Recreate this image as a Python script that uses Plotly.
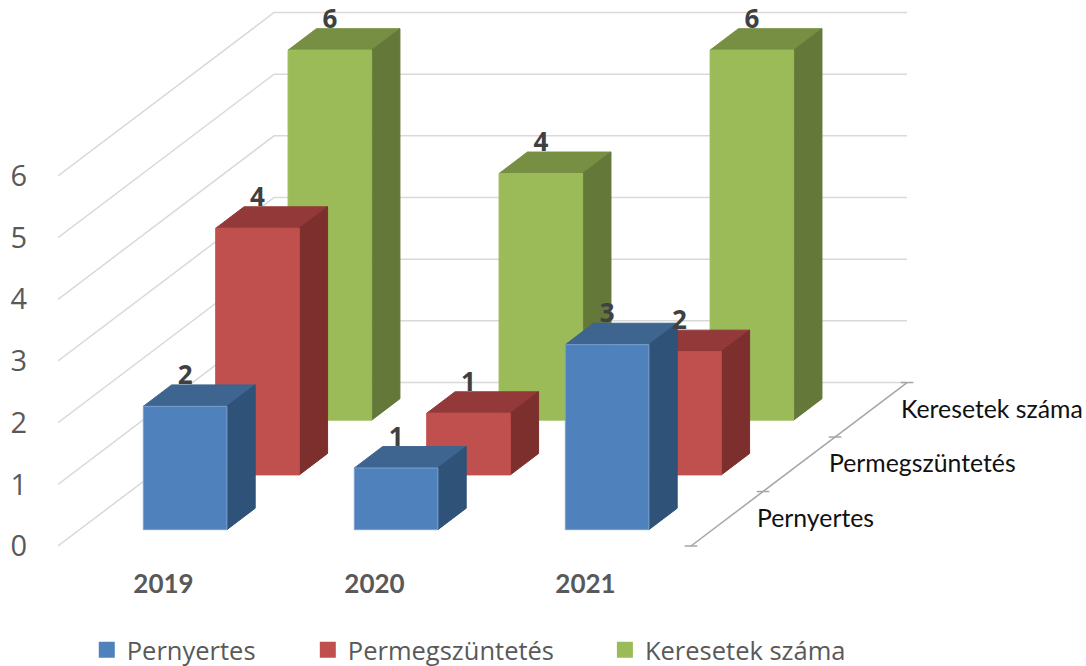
'''
    Excel style 3D column chart, drawn as an oblique projection on a 2D plot.
'''

import plotly.graph_objects as go

YEARS = ['2019', '2020', '2021']
SERIES = ['Pernyertes', 'Permegszüntetés', 'Keresetek száma']
PERNYERTES = [2, 1, 3]
PERMEGSZUNTETES = [4, 1, 2]
KERESETEK = [6, 4, 6]
Y_TICKS = [0, 1, 2, 3, 4, 5, 6]

VALUES = [PERNYERTES, PERMEGSZUNTETES, KERESETEK]
FRONT = ['#4F81BD', '#C0504D', '#9BBB59']
TOP = ['#3E6490', '#93393A', '#778F43']
SIDE = ['#2F5279', '#7D2F2D', '#647839']

# view settings of the oblique projection, in axis units
DEPTH_X = 1.024
DEPTH_Y = 2.651
BAR_HALF = 0.198
BAR_START = [0.1, 0.435, 0.77]
BAR_DEPTH = 0.131

GREY = '#595959'


def project(x, y, depth):
    return x + depth * DEPTH_X, y + depth * DEPTH_Y


def polygon(points):
    xs = [p[0] for p in points] + [points[0][0], None]
    ys = [p[1] for p in points] + [points[0][1], None]
    return xs, ys


def face_trace(xs, ys, color, edge):
    return go.Scatter(x=xs, y=ys, mode='lines', fill='toself', fillcolor=color,
                      line=dict(color=edge, width=1), showlegend=False,
                      hoverinfo='skip')


def draw_series(fig, s):
    front_x, front_y, top_x, top_y, side_x, side_y = [], [], [], [], [], []
    start, end = BAR_START[s], BAR_START[s] + BAR_DEPTH
    for c, value in enumerate(VALUES[s]):
        left, right = c - BAR_HALF, c + BAR_HALF
        xs, ys = polygon([project(left, 0, start), project(right, 0, start),
                          project(right, value, start), project(left, value, start)])
        front_x += xs
        front_y += ys
        xs, ys = polygon([project(left, value, start), project(right, value, start),
                          project(right, value, end), project(left, value, end)])
        top_x += xs
        top_y += ys
        xs, ys = polygon([project(right, 0, start), project(right, 0, end),
                          project(right, value, end), project(right, value, start)])
        side_x += xs
        side_y += ys
    fig.add_trace(face_trace(top_x, top_y, TOP[s], TOP[s]))
    fig.add_trace(face_trace(side_x, side_y, SIDE[s], SIDE[s]))
    fig.add_trace(face_trace(front_x, front_y, FRONT[s], '#7BA0CE' if s == 0 else FRONT[s]))


fig = go.Figure()

# gridlines on the left and back walls
grid_x, grid_y = [], []
for tick in Y_TICKS:
    back_left = project(-0.5, tick, 1)
    back_right = project(2.5, tick, 1)
    grid_x += [-0.5, back_left[0], back_right[0], None]
    grid_y += [tick, back_left[1], back_right[1], None]
fig.add_trace(go.Scatter(x=grid_x, y=grid_y, mode='lines', showlegend=False,
                         line=dict(color='#D9D9D9', width=1.5), hoverinfo='skip'))

for s in [2, 1, 0]:
    draw_series(fig, s)

# depth axis
axis_points = [project(2.5, 0, d / 3) for d in range(4)]
fig.add_trace(go.Scatter(x=[p[0] for p in axis_points], y=[p[1] for p in axis_points],
                         mode='lines+markers', showlegend=False, hoverinfo='skip',
                         line=dict(color='#A6A6A6', width=1.5),
                         marker=dict(symbol='line-ew', size=9, color='#A6A6A6',
                                     line=dict(color='#A6A6A6', width=1.5))))
label_points = [project(2.5 + 0.142, -0.03, (d + 0.5) / 3) for d in range(3)]
fig.add_trace(go.Scatter(x=[p[0] for p in label_points], y=[p[1] for p in label_points],
                         mode='text', text=SERIES, textposition='middle right',
                         textfont=dict(family='Lato', size=24.8, color='#111111'),
                         showlegend=False, hoverinfo='skip'))

# data labels sit on the back edge of each bar top
for s in [2, 1, 0]:
    points = [project(c, value + 0.12, 0) for c, value in enumerate(VALUES[s])]
    shift = project(0, 0, BAR_START[s] + BAR_DEPTH)
    fig.add_trace(go.Scatter(x=[p[0] + BAR_START[s] * DEPTH_X for p in points],
                             y=[p[1] + shift[1] for p in points],
                             mode='text', text=[str(v) for v in VALUES[s]],
                             textposition='middle center',
                             textfont=dict(family='Open Sans', size=26, color='#404040', weight='bold'),
                             showlegend=False, hoverinfo='skip'))

# one legend per entry, the Excel gaps are wider than plotly's
legend_names = ['legend', 'legend2', 'legend3']
for s, name in enumerate(SERIES):
    fig.add_trace(go.Scatter(x=[None], y=[None], mode='markers', name=name,
                             legend=legend_names[s],
                             marker=dict(symbol='square', size=16, color=FRONT[s])))

legend_style = dict(orientation='h', yanchor='middle', xanchor='left', y=-0.159,
                    bgcolor='rgba(0,0,0,0)', itemclick=False, itemdoubleclick=False,
                    font=dict(family='Open Sans', size=25.5, color=GREY))

fig.update_layout(
    width=1086,
    height=666,
    margin=dict(l=58, r=0, t=0, b=105, autoexpand=False),
    paper_bgcolor='white',
    plot_bgcolor='white',
    dragmode=False,
    xaxis=dict(range=[-0.5, 4.372], tickmode='array', tickvals=[0, 1, 2], ticktext=YEARS,
               showgrid=False, zeroline=False, showline=False, ticks='outside', ticklen=0,
               tickcolor='rgba(0,0,0,0)',
               tickfont=dict(family='Lato', size=26, color=GREY, weight='bold')),
    yaxis=dict(range=[-0.243, 8.854], tickmode='array', tickvals=Y_TICKS,
               showgrid=False, zeroline=False, showline=False, ticks='outside', ticklen=24,
               tickcolor='rgba(0,0,0,0)',
               tickfont=dict(family='Open Sans', size=29, color=GREY)),
    legend=dict(x=0.028, **legend_style),
    legend2=dict(x=0.243, **legend_style),
    legend3=dict(x=0.532, **legend_style),
)

fig.write_html("out.html", config=dict(displayModeBar=False),
               post_script="document.body.style.margin='0'")
